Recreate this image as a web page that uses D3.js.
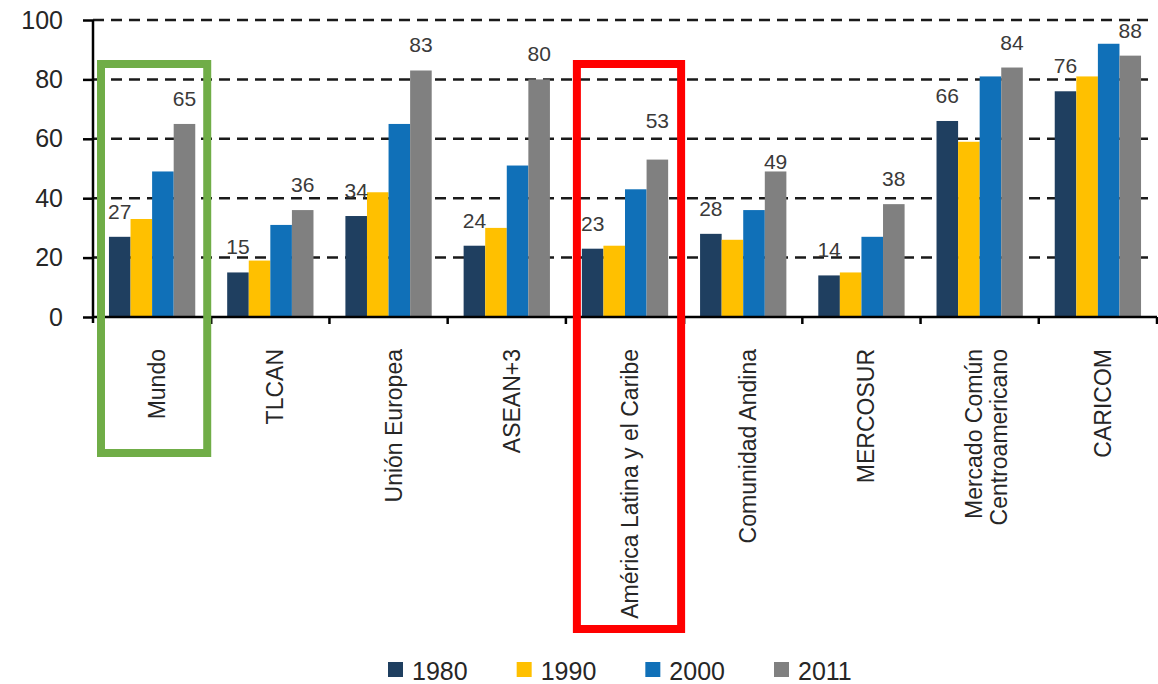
<!DOCTYPE html>
<html>
<head>
<meta charset="utf-8">
<script src="https://cdn.jsdelivr.net/npm/d3@7"></script>
<style>
  html, body { margin: 0; padding: 0; background: #fff; }
  svg { display: block; font-family: "Liberation Sans", Arial, sans-serif; }
</style>
</head>
<body>
<svg id="chart" width="1158" height="684"></svg>
<script>
const categories = [
  ["Mundo"],
  ["TLCAN"],
  ["Unión Europea"],
  ["ASEAN+3"],
  ["América Latina y el Caribe"],
  ["Comunidad Andina"],
  ["MERCOSUR"],
  ["Mercado Común", "Centroamericano"],
  ["CARICOM"]
];
const years = ["1980", "1990", "2000", "2011"];
const v1980 = [27, 15, 34, 24, 23, 28, 14, 66, 76];
const v1990 = [33, 19, 42, 30, 24, 26, 15, 59, 81];
const v2000 = [49, 31, 65, 51, 43, 36, 27, 81, 92];
const v2011 = [65, 36, 83, 80, 53, 49, 38, 84, 88];
const yTicks = [0, 20, 40, 60, 80, 100];
const colors = ["#1F3F60", "#FFC000", "#1070B8", "#808080"];
const labelled = ["1980", "2011"];

const series = [v1980, v1990, v2000, v2011];
const catNames = categories.map(c => c.join(" "));

const svg = d3.select("#chart");
const x0 = d3.scaleBand().domain(catNames).range([93, 1157]).paddingInner(0.27).paddingOuter(0.135);
const x1 = d3.scaleBand().domain(years).range([0, x0.bandwidth()]);
const y = d3.scaleLinear().domain([0, 100]).range([317, 20]);
const step = x0.step();
const stepStart = i => 93 + i * step;

// gridlines
svg.append("g").selectAll("line").data(yTicks.filter(t => t > 0)).join("line")
  .attr("x1", 93).attr("x2", 1150)
  .attr("y1", d => y(d)).attr("y2", d => y(d))
  .attr("stroke", "#1a1a1a").attr("stroke-width", 2.5)
  .attr("stroke-dasharray", "11,7");

// bars
const groups = svg.append("g").selectAll("g").data(catNames).join("g")
  .attr("transform", d => `translate(${x0(d)},0)`);
groups.selectAll("rect").data((d, i) => years.map((yr, j) => ({yr, v: series[j][i]}))).join("rect")
  .attr("x", d => x1(d.yr))
  .attr("width", x1.bandwidth())
  .attr("y", d => y(d.v))
  .attr("height", d => y(0) - y(d.v))
  .attr("fill", (d, j) => colors[j]);

// data labels (a couple are placed irregularly in the original)
const nudge = {"América Latina y el Caribe|2011": -14, "Comunidad Andina|2011": 16};
groups.selectAll("text").data((d, i) => labelled.map(yr => ({cat: d, yr, v: series[years.indexOf(yr)][i]}))).join("text")
  .attr("x", d => x1(d.yr) + x1.bandwidth() / 2)
  .attr("y", d => y(d.v) - 18 + (nudge[d.cat + "|" + d.yr] || 0))
  .attr("text-anchor", "middle")
  .attr("font-size", 21)
  .attr("fill", "#3a3a3a")
  .text(d => d.v);

// y axis
const yAxis = d3.axisLeft(y).tickValues(yTicks).tickSize(10).tickPadding(20);
const ya = svg.append("g").attr("transform", "translate(93,0)").call(yAxis);
ya.select(".domain").attr("d", `M0,${y(100)}V${y(0) + 6}`).attr("stroke", "#000").attr("stroke-width", 2.5);
ya.selectAll(".tick line").attr("stroke", "#000").attr("stroke-width", 2.5);
ya.selectAll(".tick text").attr("font-size", 25).attr("fill", "#262626")
  .attr("font-family", "'Liberation Sans', Arial, sans-serif");

// x axis line and category ticks
svg.append("line").attr("x1", 93).attr("x2", 1157).attr("y1", y(0)).attr("y2", y(0))
  .attr("stroke", "#000").attr("stroke-width", 2.5);
svg.append("g").selectAll("line").data(d3.range(1, catNames.length + 1)).join("line")
  .attr("x1", i => stepStart(i)).attr("x2", i => stepStart(i))
  .attr("y1", y(0)).attr("y2", y(0) + 7)
  .attr("stroke", "#000").attr("stroke-width", 2.5);

// category labels (rotated)
const lab = svg.append("g").selectAll("text").data(categories).join("text")
  .attr("transform", (d, i) => `translate(${x0(catNames[i]) + x0.bandwidth() / 2 + 13},349) rotate(-90)`)
  .attr("text-anchor", "end")
  .attr("font-size", 23)
  .attr("fill", "#262626");
lab.selectAll("tspan").data(d => d.map((t, k) => ({t, k, n: d.length}))).join("tspan")
  .attr("x", 0)
  .attr("y", d => (d.k - (d.n - 1) / 2) * 25 + (d.n > 1 ? 2 : 0))
  .text(d => d.t);

// highlight boxes
const mi = 0, ai = 4;
svg.append("rect")
  .attr("x", stepStart(mi) + 8).attr("y", 64)
  .attr("width", step - 12).attr("height", 389)
  .attr("fill", "none").attr("stroke", "#70AD47").attr("stroke-width", 8);
svg.append("rect")
  .attr("x", stepStart(ai) + 11).attr("y", 64)
  .attr("width", step - 14).attr("height", 565)
  .attr("fill", "none").attr("stroke", "#FF0000").attr("stroke-width", 8);

// legend
const legX = d3.scalePoint().domain(years).range([388, 774]);
const leg = svg.append("g").selectAll("g").data(years).join("g")
  .attr("transform", d => `translate(${legX(d)},662)`);
leg.append("rect").attr("width", 15).attr("height", 15).attr("fill", (d, j) => colors[j]);
leg.append("text").attr("x", 24).attr("y", 18).attr("font-size", 25).attr("fill", "#262626").text(d => d);
</script>
</body>
</html>
